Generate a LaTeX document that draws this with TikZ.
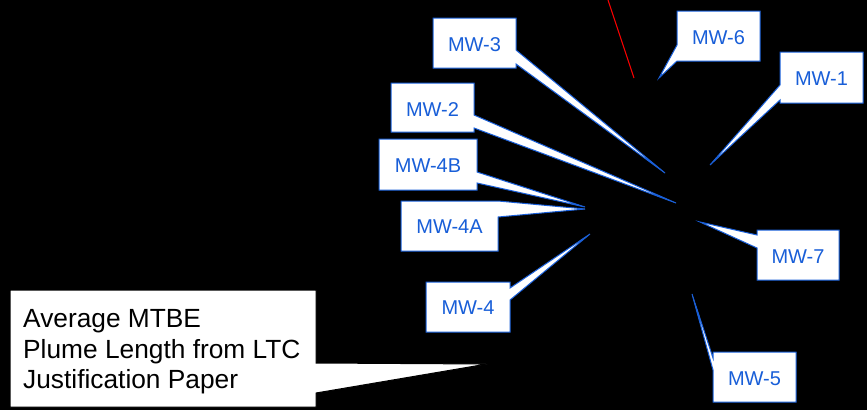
\documentclass[tikz,border=0pt]{standalone}
\usepackage{fontspec}
\setmainfont{Liberation Sans}
\definecolor{mwblue}{RGB}{24,94,216}
\begin{document}
\begin{tikzpicture}[x=1pt,y=-1pt,
  callout/.style={fill=white,draw=mwblue,line width=1pt,line join=miter},
  bigcallout/.style={fill=white,draw=black,line width=1pt},
  mwtext/.style={text=mwblue,font=\fontsize{20}{24}\selectfont,anchor=base,inner sep=0pt},
  bigtext/.style={text=black,font=\fontsize{26.3}{30}\selectfont,anchor=base west,inner sep=0pt}]
\fill[black] (0,0) rectangle (867,410);
\useasboundingbox (0,0) rectangle (867,410);
% red line
\coordinate (r1) at (608,0);
\coordinate (r2) at (634,78);
\draw[red,line width=1pt] (r1) -- (r2);
% MW-3
\draw[callout] (433,18) -- (516,18) -- (516,50) -- (665,173) -- (516,64) -- (516,68) -- (433,68) -- cycle;
\node[mwtext] (t3) at (474.5,51) {MW-3};
% MW-6
\draw[callout] (677,11) -- (760,11) -- (760,61) -- (677,61) -- (659,78) -- (677,45) -- cycle;
\node[mwtext] (t6) at (718.5,44) {MW-6};
% MW-1
\draw[callout] (780,52) -- (863,52) -- (863,103) -- (780,103) -- (780,100) -- (710,165) -- (780,85) -- cycle;
\node[mwtext] (t1) at (821.5,85.5) {MW-1};
% MW-2
\draw[callout] (391,83) -- (474,83) -- (474,115) -- (676,203) -- (474,128) -- (474,132) -- (391,132) -- cycle;
\node[mwtext] (t2) at (432.5,116) {MW-2};
% MW-4B
\draw[callout] (379,139) -- (477,139) -- (477,172) -- (585,207) -- (477,183) -- (477,190) -- (379,190) -- cycle;
\node[mwtext] (t4b) at (428,172) {MW-4B};
% MW-4A
\draw[callout] (401,201) -- (498,201) -- (585,209) -- (498,217) -- (498,251) -- (401,251) -- cycle;
\node[mwtext] (t4a) at (449.5,233) {MW-4A};
% MW-4
\draw[callout] (426,282) -- (510,282) -- (510,288) -- (590,234) -- (510,300) -- (510,332) -- (426,332) -- cycle;
\node[mwtext] (t4) at (468,314.5) {MW-4};
% MW-7
\draw[callout] (757,230) -- (839,230) -- (839,280) -- (757,280) -- (757,248) -- (700,222) -- (757,235) -- cycle;
\node[mwtext] (t7) at (798,263) {MW-7};
% MW-5
\draw[callout] (713,352) -- (796,352) -- (796,402) -- (713,402) -- (713,370) -- (692,294) -- (713,358) -- cycle;
\node[mwtext] (t5) at (754.5,385) {MW-5};
% big callout
\draw[bigcallout] (10,290) -- (316,290) -- (316,363) -- (487,364) -- (316,393) -- (316,407) -- (10,407) -- cycle;
\node[bigtext] (b1) at (23,327.5) {Average MTBE};
\node[bigtext] (b2) at (23,358) {Plume Length from LTC};
\node[bigtext] (b3) at (23,388.5) {Justification Paper};
\end{tikzpicture}
\end{document}
